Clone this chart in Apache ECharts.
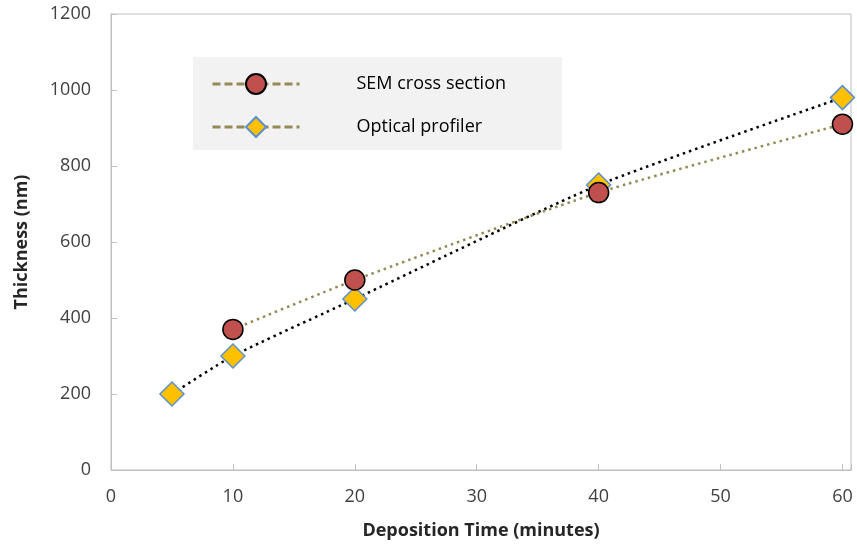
<!DOCTYPE html>
<html>
<head>
<meta charset="utf-8">
<script src="https://cdn.jsdelivr.net/npm/echarts@6/dist/echarts.min.js"></script>
<style>html,body{margin:0;padding:0;background:#fff}#c{width:857px;height:546px}</style>
</head>
<body>
<div id="c"></div>
<script>
const semTime = [10, 20, 40, 60];
const semThickness = [370, 500, 730, 910];
const optTime = [5, 10, 20, 40, 60];
const optThickness = [200, 300, 450, 750, 980];
const xTicks = [0, 10, 20, 30, 40, 50, 60];
const yTicks = [0, 200, 400, 600, 800, 1000, 1200];

const font = '"Open Sans", "DejaVu Sans", sans-serif';
const chart = echarts.init(document.getElementById('c'));
const zip = (a, b) => a.map((v, i) => [v, b[i]]);

chart.setOption({
  backgroundColor: '#ffffff',
  animation: false,
  grid: { left: 111, right: 6, top: 14, bottom: 76, show: true, borderColor: '#bfbfbf', borderWidth: 1 },
  xAxis: {
    type: 'value', min: 0, max: 60.7, interval: 10,
    name: 'Deposition Time (minutes)', nameLocation: 'middle', nameGap: 52,
    nameTextStyle: { fontFamily: font, fontSize: 18, fontWeight: 'bold', color: '#262626' },
    axisLine: { show: true, lineStyle: { color: '#bfbfbf' } },
    axisTick: { show: true, inside: true, length: 6, lineStyle: { color: '#bfbfbf' } },
    splitLine: { show: false },
    axisLabel: {
      margin: 18, fontFamily: font, fontSize: 18, color: '#404040',
      formatter: v => (xTicks.indexOf(v) >= 0 ? String(v) : '')
    }
  },
  yAxis: {
    type: 'value', min: 0, max: 1200, interval: 200,
    name: 'Thickness (nm)', nameLocation: 'middle', nameGap: 80,
    nameTextStyle: { fontFamily: font, fontSize: 18, fontWeight: 'bold', color: '#262626' },
    axisLine: { show: true, lineStyle: { color: '#bfbfbf' } },
    axisTick: { show: true, inside: true, length: 6, lineStyle: { color: '#bfbfbf' } },
    splitLine: { show: false },
    axisLabel: {
      margin: 20, fontFamily: font, fontSize: 18, color: '#404040',
      formatter: v => (yTicks.indexOf(v) >= 0 ? String(v) : '')
    }
  },
  legend: {
    data: ['SEM cross section', 'Optical profiler'],
    orient: 'vertical', left: 193, top: 57,
    backgroundColor: '#f2f2f2',
    padding: [16, 56, 12, 18],
    itemWidth: 87, itemHeight: 25, itemGap: 21,
    lineStyle: { type: [8, 4], color: '#948a54', width: 3 },
    textStyle: { fontFamily: font, fontSize: 18, color: '#000', padding: [0, 0, 0, 52] }
  },
  series: [
    {
      name: 'Optical profiler', type: 'line', smooth: 0.2,
      data: zip(optTime, optThickness),
      symbol: 'diamond', symbolSize: 24,
      itemStyle: { color: '#ffc000', borderColor: '#5b8fd0', borderWidth: 1.5 },
      lineStyle: { color: '#000000', width: 2.5, type: [2.5, 4] },
      z: 2
    },
    {
      name: 'SEM cross section', type: 'line', smooth: 0.2,
      data: zip(semTime, semThickness),
      symbol: 'circle', symbolSize: 20,
      itemStyle: { color: '#c0504d', borderColor: '#000000', borderWidth: 1.5 },
      lineStyle: { color: '#948a54', width: 2.5, type: [2.5, 4] },
      z: 3
    }
  ]
});
</script>
</body>
</html>
